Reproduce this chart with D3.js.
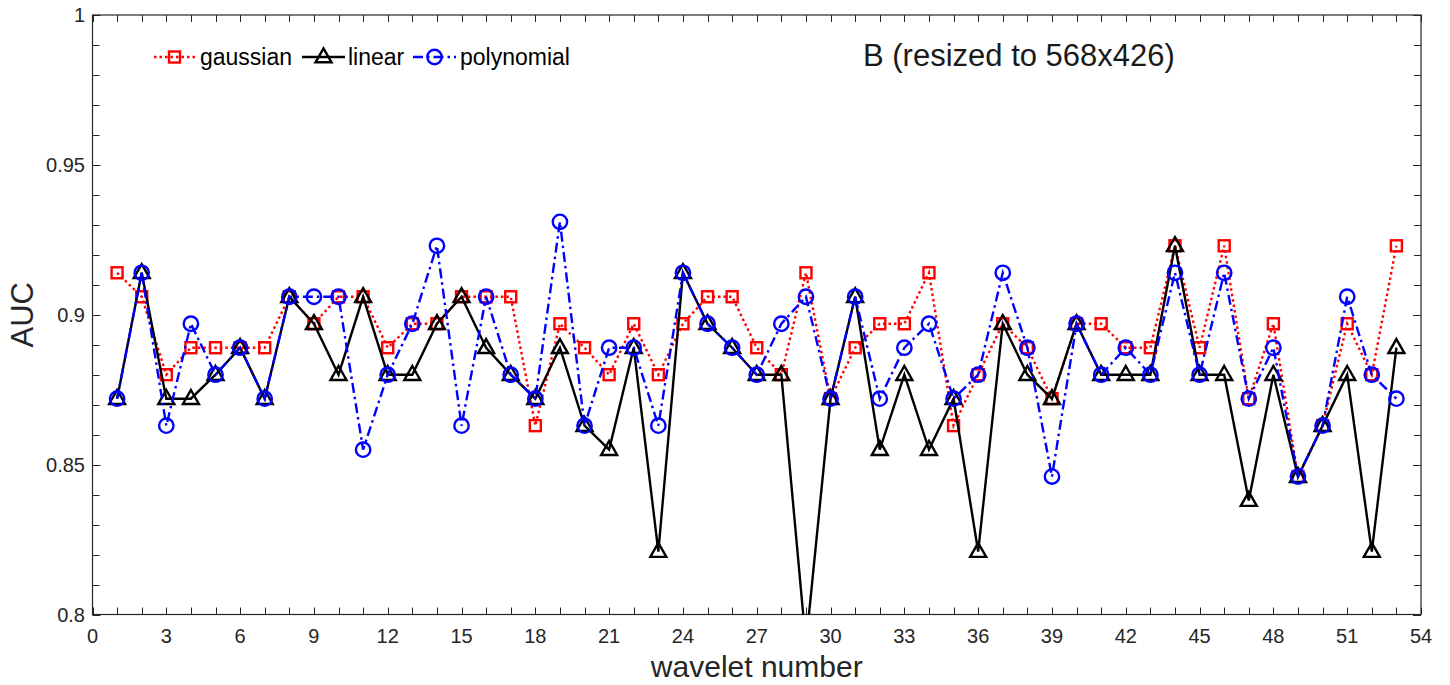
<!DOCTYPE html>
<html>
<head>
<meta charset="utf-8">
<script src="https://cdn.jsdelivr.net/npm/d3@7"></script>
<style>
  html, body { margin: 0; padding: 0; background: #fff; }
  svg { display: block; font-family: "Liberation Sans", Arial, Helvetica, sans-serif; }
</style>
</head>
<body>
<svg id="chart" width="1450" height="685"></svg>
<script>
const wavelets = [1,2,3,4,5,6,7,8,9,10,11,12,13,14,15,16,17,18,19,20,21,22,23,24,25,26,27,28,29,30,31,32,33,34,35,36,37,38,39,40,41,42,43,44,45,46,47,48,49,50,51,52,53];

const gaussian = [0.914,0.906,0.880,0.889,0.889,0.889,0.889,0.906,0.897,0.906,
  0.906,0.889,0.897,0.897,0.906,0.906,0.906,0.863,0.897,0.889,
  0.880,0.897,0.880,0.897,0.906,0.906,0.889,0.880,0.914,0.872,
  0.889,0.897,0.897,0.914,0.863,0.880,0.897,0.889,0.872,0.897,
  0.897,0.889,0.889,0.923,0.889,0.923,0.872,0.897,0.846,0.863,
  0.897,0.880,0.923];

const linear = [0.872,0.914,0.872,0.872,0.880,0.889,0.872,0.906,0.897,0.880,
  0.906,0.880,0.880,0.897,0.906,0.889,0.880,0.872,0.889,0.863,
  0.855,0.889,0.821,0.914,0.897,0.889,0.880,0.880,0.790,0.872,
  0.906,0.855,0.880,0.855,0.872,0.821,0.897,0.880,0.872,0.897,
  0.880,0.880,0.880,0.923,0.880,0.880,0.838,0.880,0.846,0.863,
  0.880,0.821,0.889];

const polynomial = [0.872,0.914,0.863,0.897,0.880,0.889,0.872,0.906,0.906,0.906,
  0.855,0.880,0.897,0.923,0.863,0.906,0.880,0.872,0.931,0.863,
  0.889,0.889,0.863,0.914,0.897,0.889,0.880,0.897,0.906,0.872,
  0.906,0.872,0.889,0.897,0.872,0.880,0.914,0.889,0.846,0.897,
  0.880,0.889,0.880,0.914,0.880,0.914,0.872,0.889,0.846,0.863,
  0.906,0.880,0.872];

const xTickLabels = [0,3,6,9,12,15,18,21,24,27,30,33,36,39,42,45,48,51,54];
const yTickLabels = [0.8,0.85,0.9,0.95,1];
const seriesNames = ["gaussian","linear","polynomial"];
const annotation = "B (resized to 568x426)";
const xLabel = "wavelet number";
const yLabel = "AUC";

const svg = d3.select("#chart");
const L = 92.5, R = 1421, T = 15, B = 614.5;
const axisColor = "#262626";

const x = d3.scaleLinear().domain([0, 54]).range([L, R]);
const y = d3.scaleLinear().domain([0.8, 1]).range([B, T]);

svg.append("defs").append("clipPath").attr("id", "plotclip")
  .append("rect").attr("x", L).attr("y", T).attr("width", R - L).attr("height", B - T);

// Ticks (inside, on all four sides)
const xTicksAll = d3.range(0, 55, 1);
const yTicksAll = d3.range(0, 21, 1).map(i => 0.8 + i * 0.01);
const tickG = svg.append("g").attr("stroke", axisColor).attr("stroke-width", 1);
xTicksAll.forEach(v => {
  const px = Math.round(x(v)) + 0.5;
  tickG.append("line").attr("x1", px).attr("x2", px).attr("y1", B).attr("y2", B - 7);
  tickG.append("line").attr("x1", px).attr("x2", px).attr("y1", T).attr("y2", T + 7);
});
yTicksAll.forEach((v, i) => {
  const py = Math.round(y(v)) + 0.5;
  const len = (i % 5 === 0) ? 8 : 7;
  tickG.append("line").attr("x1", L).attr("x2", L + len).attr("y1", py).attr("y2", py);
  tickG.append("line").attr("x1", R).attr("x2", R - len).attr("y1", py).attr("y2", py);
});

// Box
svg.append("rect").attr("x", L).attr("y", T).attr("width", R - L).attr("height", B - T)
  .attr("fill", "none").attr("stroke", axisColor).attr("stroke-width", 1.2);

// Tick labels
svg.append("g").selectAll("text").data(xTickLabels).join("text")
  .attr("x", d => x(d)).attr("y", 643)
  .attr("text-anchor", "middle").attr("font-size", 20).attr("fill", axisColor)
  .text(d => d);
svg.append("g").selectAll("text").data(yTickLabels).join("text")
  .attr("x", 85).attr("y", d => y(d)).attr("dy", "0.35em")
  .attr("text-anchor", "end").attr("font-size", 20).attr("fill", axisColor)
  .text(d => d);

// Axis labels
svg.append("text").attr("x", (L + R) / 2).attr("y", 677).attr("text-anchor", "middle")
  .attr("font-size", 30).attr("fill", axisColor).text(xLabel);
svg.append("text").attr("transform", `translate(33,${(T + B) / 2}) rotate(-90)`)
  .attr("text-anchor", "middle").attr("font-size", 31).attr("fill", axisColor).text(yLabel);

// Series
const series = [
  { name: seriesNames[0], values: gaussian, color: "#ff0000", dash: "2.5,3", marker: "square" },
  { name: seriesNames[1], values: linear, color: "#000000", dash: null, marker: "triangle" },
  { name: seriesNames[2], values: polynomial, color: "#0000ff", dash: "10,4,2.5,4", marker: "circle" }
];

const LW = 2.4;
function drawMarker(g, type, cx, cy, color) {
  if (type === "square") {
    g.append("rect").attr("x", cx - 5.5).attr("y", cy - 5.5).attr("width", 11).attr("height", 11)
      .attr("fill", "none").attr("stroke", color).attr("stroke-width", LW);
  } else if (type === "circle") {
    g.append("circle").attr("cx", cx).attr("cy", cy).attr("r", 7.2)
      .attr("fill", "none").attr("stroke", color).attr("stroke-width", LW);
  } else {
    const h = 14, w = 16;
    g.append("path").attr("d", `M${cx},${cy - h * 0.62} L${cx + w / 2},${cy + h * 0.38} L${cx - w / 2},${cy + h * 0.38} Z`)
      .attr("fill", "none").attr("stroke", color).attr("stroke-width", LW).attr("stroke-linejoin", "miter");
  }
}

const plotG = svg.append("g").attr("clip-path", "url(#plotclip)");
const line = d3.line().x((d, i) => x(wavelets[i])).y(d => y(d));
series.forEach(s => {
  const g = plotG.append("g");
  g.append("path").attr("d", line(s.values)).attr("fill", "none")
    .attr("stroke", s.color).attr("stroke-width", LW)
    .attr("stroke-dasharray", s.dash).attr("stroke-linejoin", "miter");
  s.values.forEach((v, i) => {
    if (v >= 0.8) drawMarker(g, s.marker, x(wavelets[i]), y(v), s.color);
  });
});

// Legend
const legY = 57;
const legendItems = [
  { x1: 154, x2: 195, tx: 200 },
  { x1: 302, x2: 345, tx: 348 },
  { x1: 413, x2: 456, tx: 460 }
];
series.forEach((s, i) => {
  const it = legendItems[i];
  const g = svg.append("g");
  g.append("line").attr("x1", it.x1).attr("x2", it.x2).attr("y1", legY).attr("y2", legY)
    .attr("stroke", s.color).attr("stroke-width", LW).attr("stroke-dasharray", s.dash);
  drawMarker(g, s.marker, (it.x1 + it.x2) / 2, legY, s.color);
  g.append("text").attr("x", it.tx).attr("y", legY).attr("dy", "0.35em")
    .attr("font-size", 23).attr("fill", "#000").text(s.name);
});

// Annotation
svg.append("text").attr("x", 863).attr("y", 66).attr("font-size", 31)
  .attr("fill", "#1a1a1a").text(annotation);
</script>
</body>
</html>
